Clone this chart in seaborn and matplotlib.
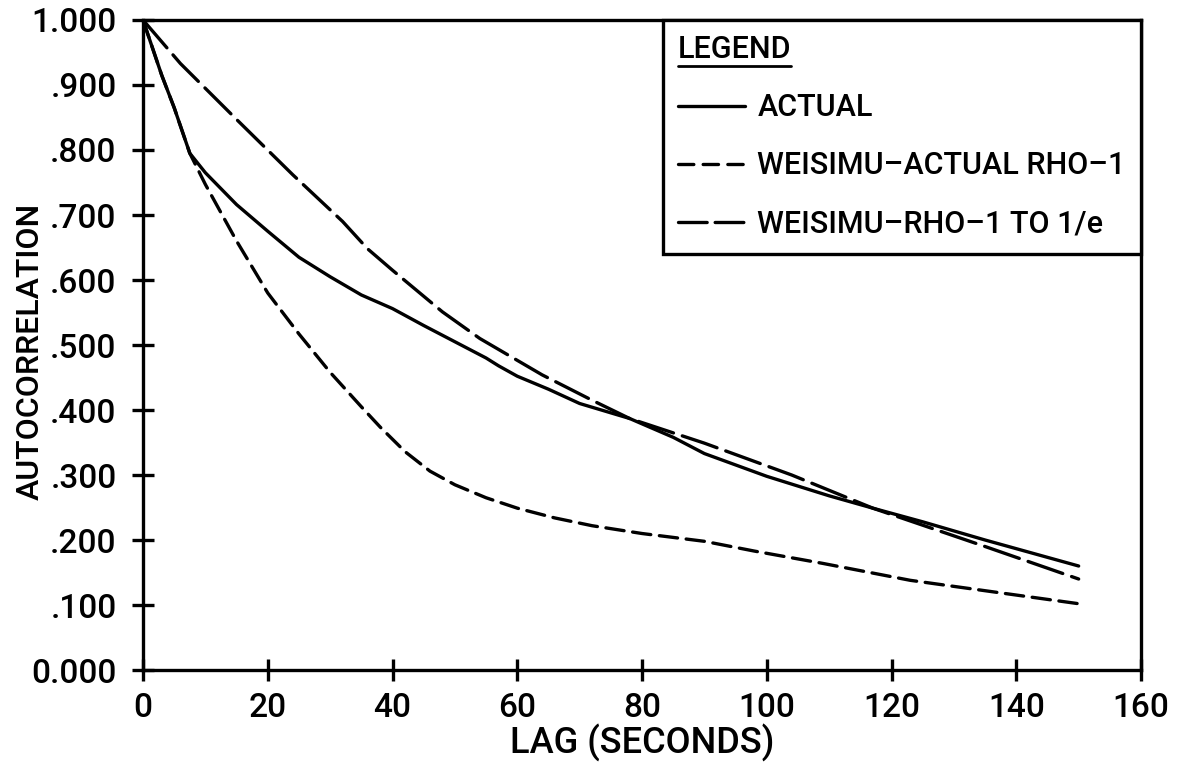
import numpy as np
import pandas as pd
import matplotlib
matplotlib.use("Agg")
import matplotlib.pyplot as plt
from matplotlib.lines import Line2D
import seaborn as sns

# Autocorrelation against lag (seconds)
lag_actual = [0, 3, 5, 7.5, 10, 15, 20, 25, 30, 35, 40, 45, 50, 55, 57, 60, 65, 70, 78, 85, 90, 100, 110, 117, 125, 135, 150]
actual = [1.000, 0.915, 0.865, 0.795, 0.765, 0.716, 0.675, 0.635, 0.605, 0.577, 0.556, 0.530, 0.505, 0.480, 0.468, 0.452, 0.432, 0.410, 0.387, 0.358, 0.333, 0.298, 0.268, 0.249, 0.228, 0.200, 0.160]

lag_sim = [0, 3, 5, 7.5, 10, 15, 20, 25, 30, 35, 38, 42, 46, 50, 55, 60, 66, 72, 80, 90, 98, 109, 123, 135, 150]
sim_actual_rho = [1.000, 0.915, 0.865, 0.795, 0.747, 0.660, 0.580, 0.517, 0.458, 0.405, 0.374, 0.336, 0.306, 0.285, 0.265, 0.249, 0.234, 0.222, 0.210, 0.198, 0.183, 0.164, 0.138, 0.122, 0.102]

lag_e = [0, 6, 15, 24, 32, 36, 40, 48, 54, 64, 72, 78, 90, 104, 117, 135, 150]
sim_rho_to_e = [1.000, 0.933, 0.847, 0.762, 0.690, 0.648, 0.615, 0.551, 0.510, 0.454, 0.415, 0.387, 0.349, 0.300, 0.249, 0.190, 0.140]

series_names = ["ACTUAL", "WEISIMU\u2013ACTUAL RHO\u20131", "WEISIMU\u2013RHO\u20131 TO 1/e"]

x_ticks = [0, 20, 40, 60, 80, 100, 120, 140, 160]
y_ticks = [0.0, 0.1, 0.2, 0.3, 0.4, 0.5, 0.6, 0.7, 0.8, 0.9, 1.0]
y_tick_labels = ["0.000", ".100", ".200", ".300", ".400", ".500", ".600", ".700", ".800", ".900", "1.000"]

df = pd.concat([
    pd.DataFrame({"lag": lag_actual, "rho": actual, "series": series_names[0]}),
    pd.DataFrame({"lag": lag_sim, "rho": sim_actual_rho, "series": series_names[1]}),
    pd.DataFrame({"lag": lag_e, "rho": sim_rho_to_e, "series": series_names[2]}),
], ignore_index=True)

sns.set_theme(style="ticks")
WEIGHT = "medium"
plt.rcParams["font.family"] = ["Roboto", "DejaVu Sans"]
plt.rcParams["font.weight"] = WEIGHT
plt.rcParams["axes.labelweight"] = WEIGHT
plt.rcParams["text.color"] = "black"
plt.rcParams["axes.labelcolor"] = "black"
plt.rcParams["lines.solid_joinstyle"] = "round"
plt.rcParams["lines.dash_joinstyle"] = "round"
plt.rcParams["lines.dash_capstyle"] = "round"
plt.rcParams["lines.solid_capstyle"] = "round"

LW = 2.4

fig = plt.figure(figsize=(11.79, 7.66), dpi=100)
ax = fig.add_axes([0.1213, 0.1253, 0.8465, 0.8486])

dash_styles = {
    series_names[0]: "",
    series_names[1]: (5.5, 2.6),
    series_names[2]: (11, 2.8),
}
sns.lineplot(data=df, x="lag", y="rho", style="series", dashes=dash_styles,
             color="black", linewidth=LW, ax=ax, legend=False, sort=False,
             estimator=None)

ax.set_xlim(0, 160)
ax.set_ylim(0, 1.0)
ax.set_xticks(x_ticks)
ax.set_xticklabels([str(t) for t in x_ticks], fontweight=WEIGHT)
ax.set_yticks(y_ticks)
ax.set_yticklabels(y_tick_labels, fontweight=WEIGHT)

for s in ax.spines.values():
    s.set_linewidth(LW)
    s.set_color("black")

ax.tick_params(axis="both", direction="inout", length=16, width=LW,
               labelsize=24, colors="black")
ax.tick_params(axis="y", pad=11)
ax.tick_params(axis="x", pad=8)

ax.set_xlabel("LAG (SECONDS)", fontsize=26, fontweight=WEIGHT)
ax.set_ylabel("AUTOCORRELATION", fontsize=23, fontweight=WEIGHT)
ax.xaxis.set_label_coords(0.5, -0.083)
ax.yaxis.set_label_coords(-0.098, 0.49)

# Legend in the top-right corner with an underlined heading
handles = [
    Line2D([], [], color="black", linewidth=LW, linestyle="-"),
    Line2D([], [], color="black", linewidth=LW, linestyle=(0, (4.6, 2.8)),
           dash_capstyle="round"),
    Line2D([], [], color="black", linewidth=LW, linestyle=(0, (8.6, 2.4)),
           dash_capstyle="round"),
]
leg = ax.legend(handles, series_names, title="LEGEND", loc="upper right",
                bbox_to_anchor=(1.0, 1.0), frameon=True, fancybox=False,
                prop={"size": 22, "weight": WEIGHT},
                title_fontproperties={"size": 22, "weight": WEIGHT},
                handlelength=2.2, handletextpad=0.4, labelspacing=0.95,
                borderpad=0.5, borderaxespad=0.0)
leg._legend_box.align = "left"
frame = leg.get_frame()
frame.set_edgecolor("black")
frame.set_linewidth(LW)
frame.set_alpha(1)

fig.canvas.draw()
renderer = fig.canvas.get_renderer()
tb = leg.get_title().get_window_extent(renderer)
inv = fig.transFigure.inverted()
(x0, y0), (x1, _) = inv.transform([(tb.x0, tb.y0 - 2), (tb.x1, tb.y0 - 2)])
fig.add_artist(Line2D([x0, x1], [y0, y0], transform=fig.transFigure,
                      color="black", linewidth=2.0))

fig.savefig("out.png", dpi=100, facecolor="white")
